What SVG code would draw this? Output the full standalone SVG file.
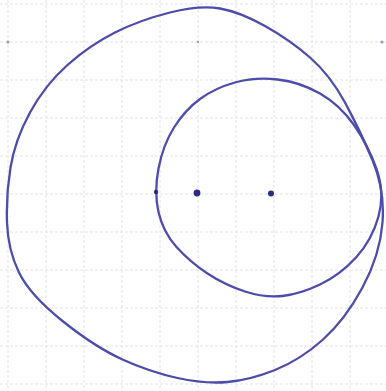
<svg xmlns="http://www.w3.org/2000/svg" width="386" height="391" viewBox="0 0 386 391">
<style>
.grid line{stroke:#e2e2e8;stroke-width:1;stroke-dasharray:3 2}
.curve{fill:none;stroke:#4c4caa;stroke-width:2.3;stroke-linejoin:round}
.dot{fill:#2a2a80}
.sdot{fill:#9a9ac0}
</style>
<rect width="386" height="391" fill="#ffffff"/>
<g class="grid">
<line x1="8" y1="0" x2="8" y2="391"/><line x1="46" y1="0" x2="46" y2="391"/><line x1="84" y1="0" x2="84" y2="391"/><line x1="122" y1="0" x2="122" y2="391"/><line x1="160" y1="0" x2="160" y2="391"/><line x1="198" y1="0" x2="198" y2="391"/><line x1="236" y1="0" x2="236" y2="391"/><line x1="274" y1="0" x2="274" y2="391"/><line x1="312" y1="0" x2="312" y2="391"/><line x1="350" y1="0" x2="350" y2="391"/>
<line x1="0" y1="4" x2="386" y2="4"/><line x1="0" y1="42" x2="386" y2="42"/><line x1="0" y1="80" x2="386" y2="80"/><line x1="0" y1="118" x2="386" y2="118"/><line x1="0" y1="156" x2="386" y2="156"/><line x1="0" y1="194" x2="386" y2="194"/><line x1="0" y1="232" x2="386" y2="232"/><line x1="0" y1="270" x2="386" y2="270"/><line x1="0" y1="308" x2="386" y2="308"/><line x1="0" y1="346" x2="386" y2="346"/><line x1="0" y1="384" x2="386" y2="384"/>
</g>
<g id="connectors">
<path id="outer" class="curve" d="M 220,8.5 Q 240,12 265,26 Q 290,40 310,57.5 Q 330,75 345,102.5 Q 360,130 372.5,160 Q 385,190 382.5,222.5 Q 380,255 362.5,287.5 Q 345,320 322.5,340 Q 300,360 275,370 Q 250,380 227.5,382 Q 205,384 177.5,378 Q 150,372 122.5,359.5 Q 95,347 62.5,321 Q 30,295 19,272.5 Q 8,250 7,222.5 Q 6,195 10.5,167.5 Q 15,140 30,112.5 Q 45,85 67.5,65 Q 90,45 115,32.5 Q 140,20 170,12.5 Q 200,5 220,8.5 Z"/>
<path id="inner" class="curve" d="M 158.5,168.5 Q 163,145 174,127.5 Q 185,110 200,99 Q 215,88 235,82.5 Q 255,77 277.5,79.5 Q 300,82 320,93.5 Q 340,105 354,125 Q 368,145 376.5,169 Q 385,193 378.5,216.5 Q 372,240 356,257.5 Q 340,275 320,284.5 Q 300,294 282.5,296 Q 265,298 245,291.5 Q 225,285 207.5,273.5 Q 190,262 176.5,247 Q 163,232 158.5,212 Q 154,192 158.5,168.5 Z"/>
</g>
<g id="points">
<circle class="sdot" cx="8" cy="42" r="1.6"/>
<circle class="sdot" cx="198" cy="42" r="1.2"/>
<circle class="sdot" cx="382" cy="42" r="1.6"/>
<circle class="dot" cx="197" cy="193" r="3.4"/>
<circle class="dot" cx="271" cy="193.5" r="3"/>
<circle class="dot" cx="156" cy="192" r="2.2"/>
</g>
</svg>
